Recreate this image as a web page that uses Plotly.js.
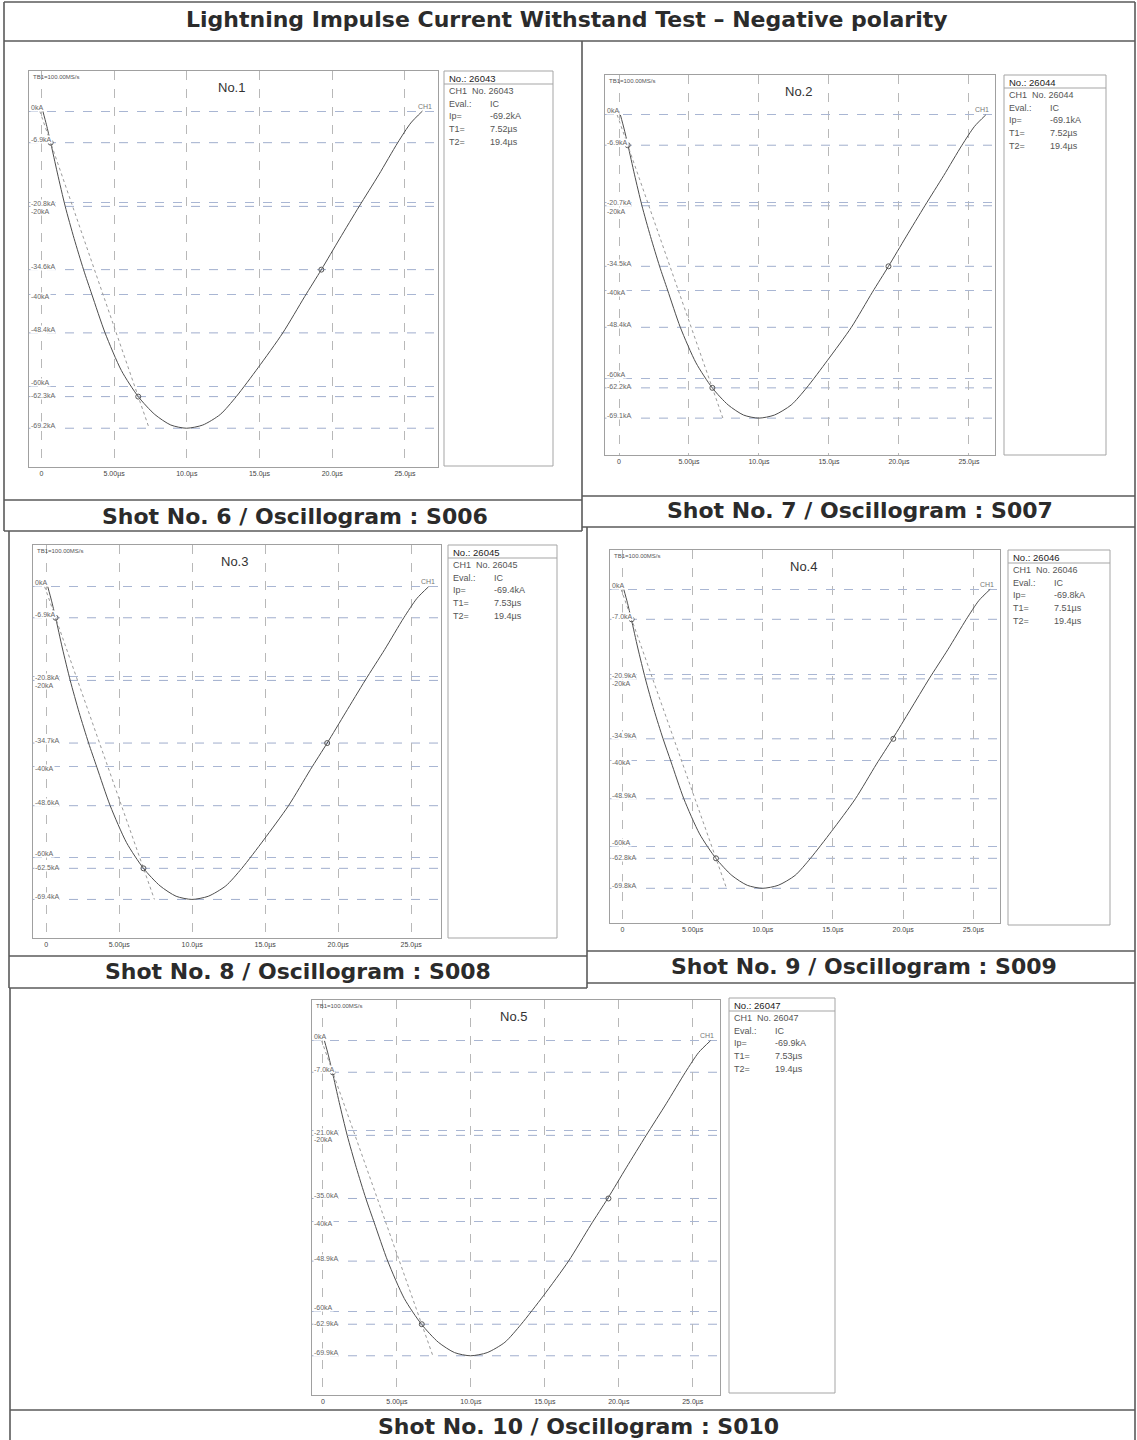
<!DOCTYPE html>
<html>
<head>
<meta charset="utf-8">
<script src="https://cdn.plot.ly/plotly-3.0.1.min.js"></script>
<style>html,body{margin:0;padding:0;background:#fff}</style>
</head>
<body>
<div id="chart" style="width:1137px;height:1440px"></div>
<script>
// ---------------- DATA ----------------
const pageTitle = "Lightning Impulse Current Withstand Test \u2013 Negative polarity";
const captions = ["Shot No. 6 / Oscillogram : S006", "Shot No. 7 / Oscillogram : S007",
                  "Shot No. 8 / Oscillogram : S008", "Shot No. 9 / Oscillogram : S009",
                  "Shot No. 10 / Oscillogram : S010"];
const shotNos = ["No.1", "No.2", "No.3", "No.4", "No.5"];
const serials = ["26043", "26044", "26045", "26046", "26047"];
const peakKA = [-69.2, -69.1, -69.4, -69.8, -69.9];
const t1Us = ["7.52", "7.52", "7.53", "7.51", "7.53"];
const t2Us = ["19.4", "19.4", "19.4", "19.4", "19.4"];
const evalMode = "IC";
const sampleRate = "TB1=100.00MS/s";

const xTickVals = [0, 5, 10, 15, 20, 25];
const xTickText = ["0", "5.00\u00b5s", "10.0\u00b5s", "15.0\u00b5s", "20.0\u00b5s", "25.0\u00b5s"];
const gridKA = [0, -20, -40, -60];

// time samples (µs)
const timeUs = [0.1, 0.35, 0.64, 1.1, 1.64, 2.25, 2.9, 3.47, 4.38, 5.5, 6.66, 7.8, 8.9, 9.98, 11.1,
                12.3, 13.4, 14.9, 16.6, 18.1, 19.25, 20.5, 21.85, 23.2, 24.5, 25.4, 26.2];
// current samples (kA) for each shot
const current1 = [0, -3.0, -6.9, -13.5, -20.8, -27.8, -34.6, -40.0, -48.4, -56.6, -62.3, -66.2, -68.5, -69.2, -68.5,
                  -66.2, -62.3, -56.0, -48.4, -40.5, -34.6, -27.9, -20.8, -13.9, -6.9, -2.6, 0];
const current2 = [0, -3.0, -6.9, -13.5, -20.7, -27.7, -34.5, -39.9, -48.4, -56.5, -62.2, -66.1, -68.4, -69.1, -68.4,
                  -66.1, -62.2, -55.9, -48.4, -40.4, -34.5, -27.8, -20.7, -13.8, -6.9, -2.6, 0];
const current3 = [0, -3.0, -6.9, -13.6, -20.8, -27.9, -34.7, -40.1, -48.6, -56.8, -62.5, -66.4, -68.7, -69.4, -68.7,
                  -66.4, -62.5, -56.2, -48.6, -40.6, -34.7, -28.0, -20.8, -13.9, -6.9, -2.6, 0];
const current4 = [0, -3.0, -7.0, -13.7, -20.9, -28.1, -34.9, -40.3, -48.9, -57.1, -62.8, -66.8, -69.1, -69.8, -69.1,
                  -66.8, -62.8, -56.5, -48.9, -40.8, -34.9, -28.2, -20.9, -14.0, -7.0, -2.6, 0];
const current5 = [0, -3.0, -7.0, -13.7, -21.0, -28.1, -35.0, -40.4, -48.9, -57.2, -62.9, -66.9, -69.2, -69.9, -69.2,
                  -66.9, -62.9, -56.6, -48.9, -40.9, -35.0, -28.2, -21.0, -14.0, -7.0, -2.6, 0];

// evaluation levels (10%, 30%, 50%, 70%, 90%, peak) in kA
const levels1 = [-6.9, -20.8, -34.6, -48.4, -62.3, -69.2];
const levels2 = [-6.9, -20.7, -34.5, -48.4, -62.2, -69.1];
const levels3 = [-6.9, -20.8, -34.7, -48.6, -62.5, -69.4];
const levels4 = [-7.0, -20.9, -34.9, -48.9, -62.8, -69.8];
const levels5 = [-7.0, -21.0, -35.0, -48.9, -62.9, -69.9];

// marker times (10% front, 90% front, 50% tail) in µs
const markT1 = [0.64, 6.66, 19.25];
const markT2 = [0.62, 6.67, 19.25];
const markT3 = [0.64, 6.66, 19.25];
const markT4 = [0.66, 6.67, 19.3];
const markT5 = [0.66, 6.68, 19.3];

// virtual front line (O1 to peak level) times in µs
const frontT1 = [-0.11, 7.41];
const frontT2 = [-0.13, 7.42];
const frontT3 = [-0.11, 7.41];
const frontT4 = [-0.09, 7.42];
const frontT5 = [-0.09, 7.43];

const currents = [current1, current2, current3, current4, current5];
const levels = [levels1, levels2, levels3, levels4, levels5];
const markTs = [markT1, markT2, markT3, markT4, markT5];
const frontTs = [frontT1, frontT2, frontT3, frontT4, frontT5];

// ---------------- LAYOUT GEOMETRY (pixels) ----------------
const W = 1137, H = 1440;
const px = x => x / W;
const py = y => 1 - y / H;

const panels = [
  {plot: [29, 438, 71, 467],   xr: [-0.85, 27.27], yr: [-77.66, 8.74], info: [444, 553, 71, 466]},
  {plot: [605, 995, 75, 455],  xr: [-1.0, 26.86],  yr: [-77.5, 9.1],   info: [1004, 1106, 75, 455]},
  {plot: [33, 441, 545, 938],  xr: [-0.91, 27.05], yr: [-77.96, 9.25], info: [448, 557, 545, 938]},
  {plot: [610, 1000, 550, 923],xr: [-0.88, 26.9],  yr: [-77.9, 9.18],  info: [1008, 1110, 550, 925]},
  {plot: [312, 720, 1000, 1395], xr: [-0.74, 26.84], yr: [-78.6, 9.03], info: [729, 835, 998, 1393]}
];
const captionPos = [[295, 516], [860, 511], [298, 971], [864, 967], [578, 1426]];
// vertical offsets (px) of the division labels relative to their lines
const gridLabelShift = {"-20": -9, "-40": -2, "-60": 4};

const smallFont = "Liberation Sans, Arial, sans-serif";
const bigFont = "DejaVu Sans, Liberation Sans, sans-serif";

const traces = [];
const layout = {
  width: W, height: H,
  margin: {l: 0, r: 0, t: 0, b: 0},
  paper_bgcolor: "#ffffff", plot_bgcolor: "#ffffff",
  showlegend: false,
  shapes: [], annotations: []
};

panels.forEach((p, i) => {
  const ax = i === 0 ? "" : String(i + 1);
  const xa = "x" + ax, ya = "y" + ax;
  layout["xaxis" + ax] = {
    domain: [px(p.plot[0]), px(p.plot[1])], range: p.xr, anchor: ya,
    tickvals: xTickVals, ticktext: xTickText, ticks: "",
    tickfont: {size: 7, color: "#444", family: smallFont},
    showgrid: true, gridcolor: "#b8b8b8", griddash: "dash", gridwidth: 1,
    zeroline: false, showline: true, mirror: true, linecolor: "#a0a0a0", linewidth: 1,
    fixedrange: true
  };
  layout["yaxis" + ax] = {
    domain: [py(p.plot[3]), py(p.plot[2])], range: p.yr, anchor: xa,
    tickvals: gridKA, showticklabels: false, ticks: "",
    showgrid: true, gridcolor: "#a9b6d3", griddash: "dash", gridwidth: 1,
    zeroline: false, showline: true, mirror: true, linecolor: "#a0a0a0", linewidth: 1,
    fixedrange: true
  };

  const lv = levels[i];
  // evaluation level lines
  lv.forEach(v => {
    layout.shapes.push({type: "line", xref: xa + " domain", yref: ya, x0: 0, x1: 1, y0: v, y1: v,
      line: {color: "#a0aecd", width: 1, dash: "dash"}, layer: "below"});
  });

  // waveform
  traces.push({type: "scatter", mode: "lines", x: timeUs, y: currents[i], xaxis: xa, yaxis: ya,
    line: {color: "#4d4d4d", width: 1, shape: "spline", smoothing: 0.7}, hoverinfo: "skip"});
  // virtual front line
  traces.push({type: "scatter", mode: "lines", x: frontTs[i], y: [0, peakKA[i]], xaxis: xa, yaxis: ya,
    line: {color: "#9a9a9a", width: 1, dash: "dot"}, hoverinfo: "skip"});
  // evaluation markers
  traces.push({type: "scatter", mode: "markers", x: markTs[i], y: [lv[0], lv[4], lv[2]], xaxis: xa, yaxis: ya,
    marker: {symbol: "circle-open", size: 5, color: "#555", line: {width: 1}}, hoverinfo: "skip"});

  // division labels
  gridKA.slice(1).forEach(v => {
    layout.annotations.push({xref: xa + " domain", yref: ya, x: 0.003, y: v, xanchor: "left", yanchor: "middle",
      yshift: gridLabelShift[String(v)], showarrow: false, text: v + "kA",
      bgcolor: "#ffffff", borderpad: 0,
      font: {size: 7, color: "#666", family: smallFont}});
  });
  // 0 label
  layout.annotations.push({xref: xa + " domain", yref: ya, x: 0.003, y: 0, xanchor: "left", yanchor: "middle",
    yshift: 4, showarrow: false, text: "0kA", bgcolor: "#ffffff", borderpad: 0,
    font: {size: 7, color: "#666", family: smallFont}});
  // level labels
  lv.forEach((v, k) => {
    layout.annotations.push({xref: xa + " domain", yref: ya, x: 0.003, y: v, xanchor: "left", yanchor: "middle",
      yshift: k === 4 ? 1 : 3, showarrow: false, text: v.toFixed(1) + "kA",
      bgcolor: "#ffffff", borderpad: 0,
      font: {size: 7, color: "#666", family: smallFont}});
  });
  // shot title, sample rate, channel
  layout.annotations.push({xref: xa + " domain", yref: ya + " domain", x: 0.495, y: 1, yshift: -16,
    xanchor: "center", yanchor: "middle", showarrow: false, text: shotNos[i],
    font: {size: 13, color: "#333", family: smallFont}});
  layout.annotations.push({xref: xa + " domain", yref: ya + " domain", x: 0.004, y: 1, yshift: -6,
    xanchor: "left", yanchor: "middle", showarrow: false, text: sampleRate,
    font: {size: 6, color: "#555", family: smallFont}});
  layout.annotations.push({xref: xa + " domain", yref: ya, x: 0.99, y: 0, yshift: 5,
    xanchor: "right", yanchor: "middle", showarrow: false, text: "CH1",
    font: {size: 7, color: "#777", family: smallFont}});

  // info box
  const [l, r, t, b] = p.info;
  layout.shapes.push({type: "rect", xref: "paper", yref: "paper", x0: px(l), x1: px(r), y0: py(b), y1: py(t),
    line: {color: "#a5a5a5", width: 1}, fillcolor: "rgba(0,0,0,0)"});
  layout.shapes.push({type: "line", xref: "paper", yref: "paper", x0: px(l), x1: px(r), y0: py(t + 13), y1: py(t + 13),
    line: {color: "#a5a5a5", width: 1}});
  layout.annotations.push({xref: "paper", yref: "paper", x: px(l + 3), y: py(t + 7), xanchor: "left", yanchor: "middle",
    showarrow: false, text: "No.: " + serials[i], font: {size: 9.5, color: "#222", family: smallFont}});
  const rowLabels = ["CH1  No. " + serials[i], "Eval.:", "Ip=", "T1=", "T2="];
  const rowValues = ["", evalMode, peakKA[i].toFixed(1) + "kA", t1Us[i] + "\u00b5s", t2Us[i] + "\u00b5s"];
  rowLabels.forEach((lab, k) => {
    const yy = t + 20 + k * 12.7;
    layout.annotations.push({xref: "paper", yref: "paper", x: px(l + 3), y: py(yy), xanchor: "left", yanchor: "middle",
      showarrow: false, text: lab, font: {size: 9, color: "#555", family: smallFont}});
    if (rowValues[k]) {
      layout.annotations.push({xref: "paper", yref: "paper", x: px(l + 44), y: py(yy), xanchor: "left", yanchor: "middle",
        showarrow: false, text: rowValues[k], font: {size: 9, color: "#555", family: smallFont}});
    }
  });
});

// table lines
const hLines = [[4, 1135, 2], [4, 1135, 41], [4, 582, 500], [4, 582, 531], [582, 1135, 496], [582, 1135, 527],
                [9, 587, 956], [9, 587, 988], [587, 1135, 951], [587, 1135, 983], [10, 1135, 1410]];
const vLines = [[4, 2, 531], [582, 41, 531], [1135, 2, 1440], [9, 531, 988], [10, 988, 1440], [587, 527, 988]];
hLines.forEach(([x0, x1, y]) => layout.shapes.push({type: "line", xref: "paper", yref: "paper",
  x0: px(x0), x1: px(x1), y0: py(y), y1: py(y), line: {color: "#5a5a5a", width: 1.6}}));
vLines.forEach(([x, y0, y1]) => layout.shapes.push({type: "line", xref: "paper", yref: "paper",
  x0: px(x), x1: px(x), y0: py(y0), y1: py(y1), line: {color: "#5a5a5a", width: 1.6}}));

// page title and captions
layout.annotations.push({xref: "paper", yref: "paper", x: px(567), y: py(20), xanchor: "center", yanchor: "middle",
  showarrow: false, text: "<b>" + pageTitle + "</b>", font: {size: 22, color: "#2b2b2b", family: bigFont}});
captions.forEach((c, i) => {
  layout.annotations.push({xref: "paper", yref: "paper", x: px(captionPos[i][0]), y: py(captionPos[i][1]),
    xanchor: "center", yanchor: "middle", showarrow: false, text: "<b>" + c + "</b>",
    font: {size: 22, color: "#2b2b2b", family: bigFont}});
});

Plotly.newPlot("chart", traces, layout, {displayModeBar: false, staticPlot: true});
</script>
</body>
</html>
